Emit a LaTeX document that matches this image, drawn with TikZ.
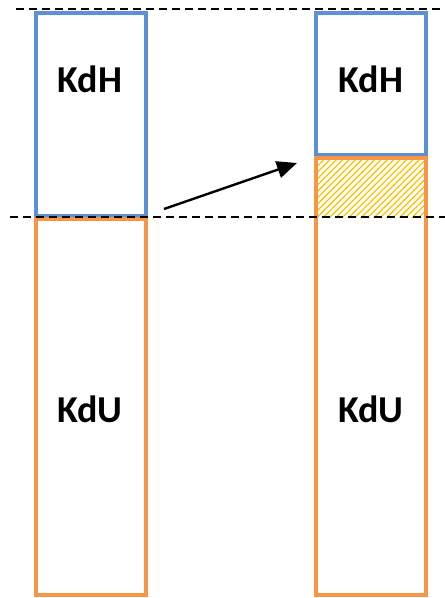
\documentclass[tikz,border=0pt]{standalone}
\usepackage{fontspec}
\setmainfont{Carlito}
\usetikzlibrary{patterns.meta,arrows.meta}
\definecolor{kblue}{HTML}{5B8FD6}
\definecolor{korange}{HTML}{F79646}
\definecolor{kgold}{HTML}{FFC000}
\tikzset{
  hbox/.style={draw=kblue, line width=4.2pt},
  ubox/.style={draw=korange, line width=4.2pt},
  lbl/.style={font=\bfseries\fontsize{38}{38}\selectfont, inner sep=0pt},
  level/.style={line width=2pt, dash pattern=on 8pt off 5pt},
}
\begin{document}
\begin{tikzpicture}[x=1pt,y=-1pt]
\useasboundingbox (0,0) rectangle (445,598);
% hatched gain region
\fill[pattern={Lines[angle=45,distance=4.5pt,line width=1.3pt]}, pattern color=kgold] (318,160) rectangle (425,217);
% left column
\draw[hbox] (36,13) rectangle (146,216);
\draw[ubox] (36,219) rectangle (146,595);
% right column
\draw[hbox] (316,13) rectangle (426,155);
\draw[ubox] (316,158) rectangle (426,595);
% reference levels
\coordinate (t1) at (16,9);  \coordinate (t2) at (445,9);
\coordinate (m1) at (10,217); \coordinate (m2) at (445,217);
\draw[level] (t1) -- (t2);
\draw[level] (m1) -- (m2);
% labels
\node[lbl] (h1) at (90,79) {KdH};
\node[lbl] (u1) at (90,409) {KdU};
\node[lbl] (h2) at (371,79) {KdH};
\node[lbl] (u2) at (371,409) {KdU};
% shift arrow
\coordinate (a1) at (164,209);
\coordinate (a2) at (297,163);
\draw[line width=2.4pt, -{Triangle[length=20pt,width=17pt]}] (a1) -- (a2);
\end{tikzpicture}
\end{document}
